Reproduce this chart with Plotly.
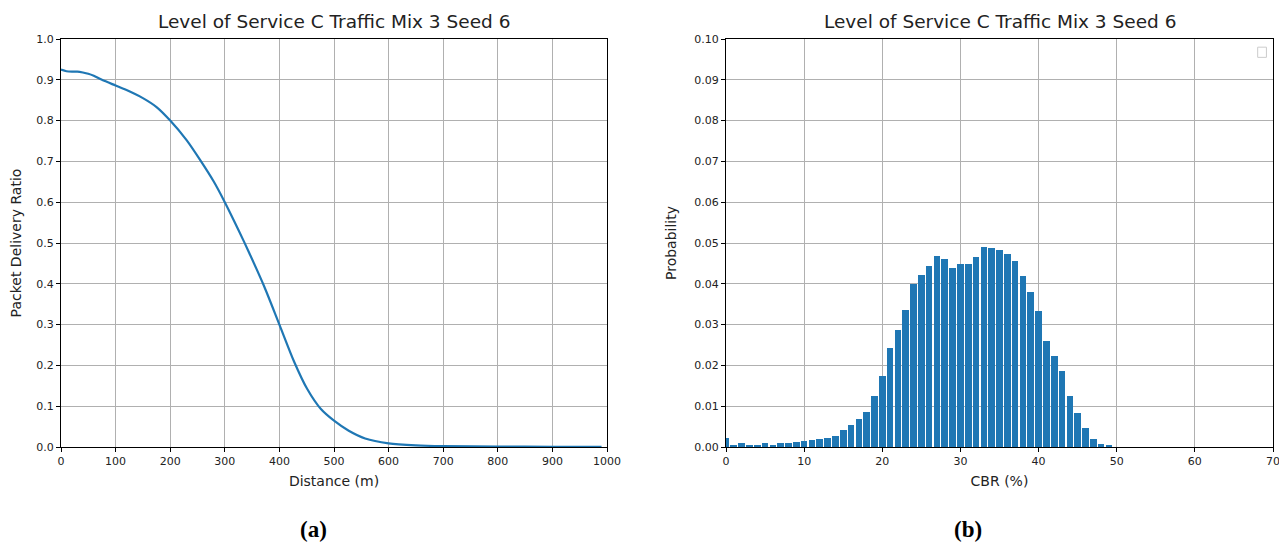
import plotly.graph_objects as go

# Left panel: packet delivery ratio vs distance
distance_m = [0, 10, 20, 30, 40, 50, 60, 75, 100, 118, 150, 175, 200, 230, 255, 280,
              300, 325, 345, 372, 400, 427, 451, 476, 500, 527, 557, 600, 650, 700,
              800, 900, 990]
pdr = [0.925, 0.921, 0.920, 0.920, 0.918, 0.915, 0.910, 0.900, 0.886, 0.876, 0.855,
       0.833, 0.800, 0.752, 0.703, 0.650, 0.600, 0.532, 0.475, 0.394, 0.300, 0.209,
       0.142, 0.093, 0.0645, 0.040, 0.021, 0.009, 0.004, 0.002, 0.001, 0.0005, 0.0003]

# Right panel: CBR histogram
cbr_pct = list(range(0, 50))
probability = [0.0022, 0.0003, 0.0009, 0.0006, 0.0006, 0.0009, 0.0006, 0.0009, 0.0009, 0.0012,
               0.0015, 0.0016, 0.0020, 0.0022, 0.0028, 0.0041, 0.0055, 0.0069, 0.0087, 0.0125,
               0.0174, 0.0242, 0.0288, 0.0336, 0.0400, 0.0422, 0.0444, 0.0469, 0.0462, 0.0439,
               0.0448, 0.0448, 0.0466, 0.0490, 0.0487, 0.0482, 0.0472, 0.0455, 0.0420, 0.0380,
               0.0333, 0.0261, 0.0222, 0.0187, 0.0125, 0.0083, 0.0047, 0.0020, 0.0007, 0.0003]

title_text = "Level of Service C Traffic Mix 3 Seed 6"
OFF = 8  # page body margin
W, H = 1287 - 2 * OFF, 552 - 2 * OFF
BLUE = "#1f77b4"
GRID = "#b0b0b0"
FONT = "DejaVu Sans"


def px_x(v):
    return (v - OFF) / W


def px_y(v):
    return 1 - (v - OFF) / H


fig = go.Figure()
fig.add_trace(go.Scatter(x=distance_m, y=pdr, mode="lines",
                         line=dict(color=BLUE, width=2.2, shape="spline", smoothing=0.8),
                         xaxis="x", yaxis="y", showlegend=False))
fig.add_trace(go.Bar(x=cbr_pct, y=probability, width=0.85, marker=dict(color=BLUE, line=dict(width=0)),
                     xaxis="x2", yaxis="y2", showlegend=False))

ydom = [px_y(447), px_y(39)]
common = dict(showline=True, linecolor="black", linewidth=1.2, mirror=True,
              ticks="outside", ticklen=4, tickcolor="black", showgrid=True,
              gridcolor=GRID, gridwidth=1, zeroline=False, automargin=False,
              ticklabeloverflow="allow",
              tickfont=dict(family=FONT, size=11, color="#222"),
              title_font=dict(family=FONT, size=14, color="#222"))

fig.update_layout(
    width=W, height=H, margin=dict(l=0, r=0, t=0, b=0, autoexpand=False),
    paper_bgcolor="white", plot_bgcolor="white",
    bargap=0,
    xaxis=dict(domain=[px_x(61), px_x(607)], range=[0, 1000], tickvals=list(range(0, 1001, 100)),
               title=dict(text="Distance (m)", standoff=8), anchor="y", **common),
    yaxis=dict(domain=ydom, range=[0, 1.0], tickvals=[i / 10 for i in range(11)],
               tickformat=".1f", title=dict(text="Packet Delivery Ratio", standoff=14), anchor="x", **common),
    xaxis2=dict(domain=[px_x(726), px_x(1273)], range=[0, 70], tickvals=list(range(0, 71, 10)),
                title=dict(text="CBR (%)", standoff=8), anchor="y2", **common),
    yaxis2=dict(domain=ydom, range=[0, 0.10], tickvals=[i / 100 for i in range(11)],
                tickformat=".2f", title=dict(text="Probability", standoff=14), anchor="x2", **common),
    annotations=[
        dict(text=title_text, x=0.5, y=1, xref="x domain", yref="y domain", yshift=5,
             showarrow=False, font=dict(family=FONT, size=18.5, color="#222"),
             xanchor="center", yanchor="bottom"),
        dict(text=title_text, x=0.5, y=1, xref="x2 domain", yref="y2 domain", yshift=5,
             showarrow=False, font=dict(family=FONT, size=18.5, color="#222"),
             xanchor="center", yanchor="bottom"),
        dict(text="<b>(a)</b>", x=px_x(313), y=0, xref="paper", yref="paper",
             showarrow=False, font=dict(family="Liberation Serif", size=23, color="black"),
             xanchor="center", yanchor="bottom"),
        dict(text="<b>(b)</b>", x=px_x(968), y=0, xref="paper", yref="paper",
             showarrow=False, font=dict(family="Liberation Serif", size=23, color="black"),
             xanchor="center", yanchor="bottom"),
    ],
    shapes=[
        dict(type="rect", xref="x2 domain", yref="y2 domain",
             x0=0.972, x1=0.988, y0=0.955, y1=0.98,
             line=dict(color="#cccccc", width=1), fillcolor="white"),
    ],
)

fig.write_html("out.html")
